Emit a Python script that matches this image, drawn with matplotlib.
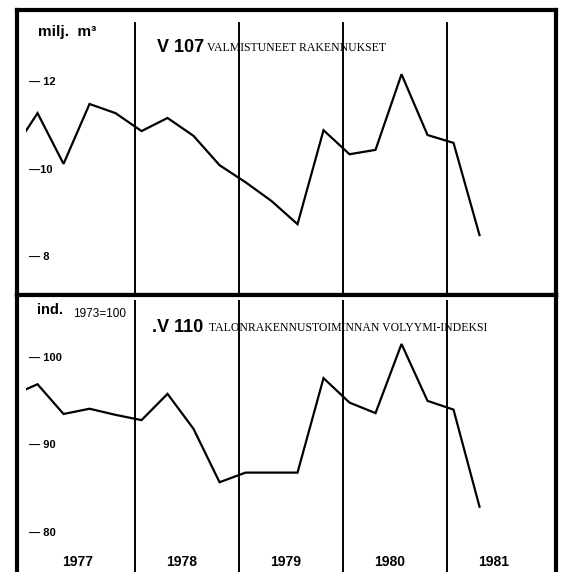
import matplotlib
matplotlib.use('Agg')
import matplotlib.pyplot as plt
from matplotlib.patches import Rectangle

# quarterly series, 1976 Q4 .. 1981 Q2 (first point lies left of the frame)
quarters = [1976.8125] + [y + 0.0625 + 0.25 * q for y in range(1977, 1982) for q in range(4)][:18]

# V 107 valmistuneet rakennukset, milj. m3
valmistuneet = [10.38, 11.29, 10.13, 11.50, 11.29, 10.88, 11.18, 10.77, 10.10,
                9.71, 9.28, 8.75, 10.90, 10.35, 10.45, 12.18, 10.79, 10.61, 8.50]

# V 110 talonrakennustoiminnan volyymi-indeksi, 1973=100
volyymi = [95.7, 97.0, 93.6, 94.2, 93.5, 92.9, 95.9, 91.9, 85.8,
           86.9, 86.9, 86.9, 97.7, 94.9, 93.7, 101.6, 95.1, 94.1, 83.0]

years = [1977, 1978, 1979, 1980, 1981]
top_ticks = [12, 10, 8]
top_tick_labels = ['— 12', '—10', '— 8']
bot_ticks = [100, 90, 80]
bot_tick_labels = ['— 100', '— 90', '— 80']

SANS = 'Liberation Sans'
SERIF = 'Liberation Serif'
W, H = 563, 572

fig = plt.figure(figsize=(W / 100, H / 100), dpi=100)
left, right = 17 / W, 556 / W
ax_top = fig.add_axes([left, 1 - 295 / H, right - left, 285 / H])
ax_bot = fig.add_axes([left, 0, right - left, 277 / H])

xlim = (1976.865, 1982.048)


def setup(ax, ylim, show_bottom):
    ax.set_xlim(*xlim)
    ax.set_ylim(*ylim)
    ax.set_xticks([])
    ax.set_yticks([])
    for name, sp in ax.spines.items():
        sp.set_linewidth(3)
        sp.set_color('black')
    ax.spines['bottom'].set_visible(show_bottom)


def draw_series(ax, yvals):
    line, = ax.plot(quarters, yvals, color='black', lw=1.6, solid_joinstyle='miter')
    # line starts at the inner edge of the frame
    clip = Rectangle((1976.95, -1000), 10, 3000, transform=ax.transData)
    line.set_clip_path(clip)


# ── top panel ────────────────────────────────────────────────────────────────
setup(ax_top, (7.13, 13.65), True)
for y in years[1:]:
    ax_top.axvline(y, ymin=0, ymax=0.955, color='black', lw=1.4)
draw_series(ax_top, valmistuneet)
for v, lab in zip(top_ticks, top_tick_labels):
    ax_top.text(0.022, v, lab, transform=ax_top.get_yaxis_transform(),
                ha='left', va='center', fontsize=8, fontweight='bold', family=SANS)
tx = ax_top.get_xaxis_transform()
ax_top.text(1977.067, 0.923, 'milj.  m³', transform=tx, ha='left', va='center',
            fontsize=11, fontweight='bold', family=SANS)
ax_top.text(1978.21, 0.868, 'V 107', transform=tx, ha='left', va='center',
            fontsize=13, fontweight='bold', family=SANS)
ax_top.text(1978.69, 0.866, 'VALMISTUNEET RAKENNUKSET', transform=tx, ha='left',
            va='center', fontsize=8.5, family=SERIF)

# ── bottom panel ─────────────────────────────────────────────────────────────
setup(ax_bot, (75.54, 107.2), False)
for y in years[1:]:
    ax_bot.axvline(y, ymin=0, ymax=0.98, color='black', lw=1.4)
draw_series(ax_bot, volyymi)
for v, lab in zip(bot_ticks, bot_tick_labels):
    ax_bot.text(0.022, v, lab, transform=ax_bot.get_yaxis_transform(),
                ha='left', va='center', fontsize=8, fontweight='bold', family=SANS)
bx = ax_bot.get_xaxis_transform()
ax_bot.text(1977.057, 0.946, 'ind.', transform=bx, ha='left', va='center',
            fontsize=10.5, fontweight='bold', family=SANS)
ax_bot.text(1977.40, 0.930, '1973=100', transform=bx, ha='left', va='center',
            fontsize=8.5, family=SANS)
ax_bot.text(1978.16, 0.884, '.V 110', transform=bx, ha='left', va='center',
            fontsize=13, fontweight='bold', family=SANS)
ax_bot.text(1978.71, 0.882, 'TALONRAKENNUSTOIMINNAN VOLYYMI-INDEKSI', transform=bx,
            ha='left', va='center', fontsize=8.5, family=SERIF)
for y in years:
    ax_bot.text(y + 0.45, 0.036, str(y), transform=bx, ha='center', va='center',
                fontsize=10, fontweight='bold', family=SANS)

fig.savefig('out.png', dpi=100)
